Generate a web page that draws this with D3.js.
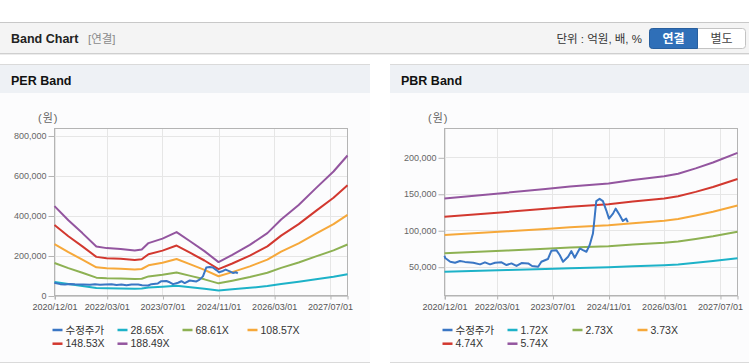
<!DOCTYPE html>
<html><head><meta charset="utf-8">
<script src="https://cdn.jsdelivr.net/npm/d3@7"></script>
<style>
body{margin:0;background:#fff;}
svg{display:block;font-family:"Liberation Sans","Noto Sans CJK KR",Arial,sans-serif;}
</style>
</head><body>
<svg id="c" width="749" height="364"></svg>
<script>
// ---------------- DATA ----------------
const xTickLabels = ["2020/12/01","2022/03/01","2023/07/01","2024/11/01","2026/03/01","2027/07/01"];
const xDomainLabels = ["2020/12/01","2027/12/01"];

// PER band series (원)
const perDates = ["2020/12/01","2021/04/01","2021/08/01","2021/12/01","2022/03/01","2022/07/01","2022/11/01","2023/01/01","2023/03/01","2023/07/01","2023/11/01","2024/03/01","2024/07/01","2024/11/01","2025/03/01","2025/08/01","2026/01/01","2026/05/01","2026/10/01","2027/03/01","2027/08/01","2027/12/01"];
const per2865 = [67900,57200,47400,37200,36000,35400,34200,35000,39800,43300,48200,41000,33700,25400,30900,38400,47400,57800,68800,81600,94200,106400];
const per6861 = [162700,136900,113600,89200,86200,84800,81900,83700,95400,103600,115400,98200,80800,60800,73900,92100,113600,138300,164900,195500,225700,254800];
const per10857 = [257400,216600,179700,141100,136500,134200,129600,132500,150900,163900,182600,155500,127900,96200,116900,145700,179700,218900,260900,309300,357100,403200];
const per14853 = [352200,296300,245800,193100,186700,183600,177300,181200,206500,224300,249800,212700,175000,131600,160000,199300,245800,299400,356900,423200,488500,551600];
const per18849 = [446900,376000,312000,245000,236900,233000,225100,230000,262000,284600,317000,269900,222000,167000,203000,253000,312000,380000,452900,537000,619900,700100];
const perLabels = ["수정주가","28.65X","68.61X","108.57X","148.53X","188.49X"];
const perYTicks = [0,200000,400000,600000,800000];
const perYDomain = [0,835000];

// PBR band series (원)
const pbrDates = ["2020/12/01","2022/06/01","2023/05/01","2023/12/01","2024/11/01","2025/06/01","2026/03/01","2026/07/01","2026/12/01","2027/05/01","2027/12/01"];
const pbr172 = [43000,45400,47000,48000,49200,50600,52100,53100,55400,57800,61700];
const pbr273 = [68300,72100,74500,76200,78100,80300,82700,84400,87900,91700,98000];
const pbr373 = [93300,98500,101800,104100,106700,109700,113000,115300,120100,125300,133900];
const pbr474 = [118500,125100,129400,132300,135600,139400,143600,146500,152600,159300,170200];
const pbr574 = [143500,151500,156700,160100,164200,168800,173900,177400,184800,192900,206100];
const pbrLabels = ["수정주가","1.72X","2.73X","3.73X","4.74X","5.74X"];
const pbrYTicks = [50000,100000,150000,200000];
const pbrYDomain = [10500,239500];

// 수정주가 (adjusted price)
const priceDates = ["2020/12/01","2020/12/07","2021/01/20","2021/03/03","2021/04/15","2021/05/28","2021/08/09","2021/10/07","2021/11/19","2022/01/02","2022/02/15","2022/04/13","2022/05/26","2022/07/08","2022/08/21","2022/10/04","2022/12/01","2023/01/04","2023/02/26","2023/03/26","2023/05/22","2023/06/21","2023/08/04","2023/09/02","2023/10/01","2023/11/14","2023/12/13","2024/01/11","2024/02/24","2024/03/23","2024/04/22","2024/05/20","2024/06/18","2024/07/03","2024/07/17","2024/08/15","2024/09/13","2024/10/13","2024/11/05","2024/12/10","2025/01/02","2025/02/07","2025/03/06","2025/04/04","2025/04/18"];
const priceValues = [65000,62000,56800,55500,57800,56600,55500,53200,56000,53200,55500,56000,52300,54500,51000,55000,54500,51000,50000,56800,60500,71800,72700,66000,56800,63600,71400,62300,75000,72700,70500,79500,95500,118000,140000,143000,140000,127000,116000,122800,129600,120500,112700,116000,111000];

const colors = ["#3a76c4","#1db2c8","#8db153","#f6a83a","#d2382f","#93559f"];

// ---------------- DRAW ----------------
const svg = d3.select("#c");
const parse = d3.timeParse("%Y/%m/%d");

// Top header bar
svg.append("rect").attr("x",0).attr("y",22.5).attr("width",749).attr("height",30.5)
  .attr("fill","#f4f4f4").attr("stroke","none");
svg.append("line").attr("x1",0).attr("x2",749).attr("y1",22.5).attr("y2",22.5).attr("stroke","#c8c8c8");
svg.append("line").attr("x1",0).attr("x2",749).attr("y1",53.5).attr("y2",53.5).attr("stroke","#cfcfcf");
svg.append("line").attr("x1",0).attr("x2",749).attr("y1",54.5).attr("y2",54.5).attr("stroke","#ececec");
svg.append("text").attr("x",11).attr("y",43).attr("font-size",12.5).attr("font-weight","bold")
  .attr("fill","#222").text("Band Chart");
svg.append("text").attr("x",88).attr("y",43).attr("font-size",11.5).attr("fill","#8a8a8a").text("[연결]");
svg.append("text").attr("x",642).attr("y",43).attr("text-anchor","end").attr("font-size",11.5)
  .attr("fill","#333").text("단위 : 억원, 배, %");
svg.append("rect").attr("x",649.5).attr("y",28.5).attr("width",96).attr("height",20).attr("rx",3)
  .attr("fill","#fff").attr("stroke","#c3c3c3");
svg.append("path").attr("d","M652.5,28.5 H697.5 V48.5 H652.5 Q649.5,48.5 649.5,45.5 V31.5 Q649.5,28.5 652.5,28.5 Z")
  .attr("fill","#2f6fb8").attr("stroke","#285f9e");
svg.append("text").attr("x",673.5).attr("y",43).attr("text-anchor","middle").attr("font-size",12)
  .attr("font-weight","bold").attr("fill","#fff").text("연결");
svg.append("text").attr("x",721.5).attr("y",43).attr("text-anchor","middle").attr("font-size",12)
  .attr("fill","#444").text("별도");

function drawPanel(px, pw, title, dates, bands, labels, yTicks, yDomain) {
  const g = svg.append("g").attr("transform",`translate(${px},0)`);
  // panel body + header
  g.append("rect").attr("x",0).attr("y",64).attr("width",pw).attr("height",299).attr("fill","#fcfcfd");
  g.append("rect").attr("x",0).attr("y",64).attr("width",pw).attr("height",29).attr("fill","#eef1f5");
  g.append("line").attr("x1",0).attr("x2",pw).attr("y1",64.5).attr("y2",64.5).attr("stroke","#dadada");
  g.append("line").attr("x1",0).attr("x2",pw).attr("y1",362.5).attr("y2",362.5).attr("stroke","#dadada");
  g.append("text").attr("x",11).attr("y",85).attr("font-size",12.5).attr("font-weight","bold")
    .attr("fill","#111").text(title);

  const x0 = 54.5, x1 = 347.5, yTop = 128.5, yBot = 295.5;
  const x = d3.scaleTime().domain(xDomainLabels.map(parse)).range([x0,x1]);
  const y = d3.scaleLinear().domain(yDomain).range([yBot,yTop]);
  const xTicks = xTickLabels.map(parse);

  // grid
  g.append("g").selectAll("line.h").data(yTicks).join("line")
    .attr("x1",x0).attr("x2",x1).attr("y1",d=>Math.round(y(d))+0.5).attr("y2",d=>Math.round(y(d))+0.5)
    .attr("stroke","#e6e6e6");
  g.append("g").selectAll("line.v").data(xTicks).join("line")
    .attr("x1",d=>Math.round(x(d))+0.5).attr("x2",d=>Math.round(x(d))+0.5).attr("y1",yTop).attr("y2",yBot)
    .attr("stroke","#e6e6e6");
  // frame
  g.append("rect").attr("x",x0).attr("y",yTop).attr("width",x1-x0).attr("height",yBot-yTop)
    .attr("fill","none").attr("stroke","#b4b4b4");

  // axes
  const fmt = d3.format(",");
  const ya = g.append("g").attr("transform",`translate(${x0},0)`)
    .call(d3.axisLeft(y).tickValues(yTicks).tickSize(6).tickPadding(2).tickFormat(fmt));
  ya.select(".domain").remove();
  ya.selectAll("line").attr("stroke","#b4b4b4").attr("transform","translate(0,0.5)");
  ya.selectAll("text").attr("font-size",9).attr("fill","#666").attr("font-family",null);

  const xa = g.append("g").attr("transform",`translate(0,${yBot})`)
    .call(d3.axisBottom(x).tickValues(xTicks).tickSize(4).tickPadding(4)
      .tickFormat((d,i)=>xTickLabels[i]));
  xa.select(".domain").attr("stroke","#b4b4b4");
  xa.selectAll("line").attr("stroke","#b4b4b4").attr("transform","translate(0.5,0)");
  xa.selectAll("text").attr("font-size",9).attr("fill","#555").attr("font-family",null);

  g.append("text").attr("x",38).attr("y",122).attr("font-size",11).attr("fill","#666")
    .attr("letter-spacing",1).text("(원)");

  // lines
  const line = d3.line().x(d=>x(d[0])).y(d=>y(d[1]));
  const bandG = g.append("g");
  bands.forEach((vals,i)=>{
    bandG.append("path").datum(vals.map((v,j)=>[parse(dates[j]),v]))
      .attr("d",line).attr("fill","none").attr("stroke",colors[i+1]).attr("stroke-width",2)
      .attr("stroke-linejoin","round");
  });
  g.append("path").datum(priceValues.map((v,j)=>[parse(priceDates[j]),v]))
    .attr("d",line).attr("fill","none").attr("stroke",colors[0]).attr("stroke-width",2)
    .attr("stroke-linejoin","round");

  // legend
  const lg = g.append("g");
  labels.forEach((lab,i)=>{
    const lx = 52.5 + (i%4)*65, ly = 330 + Math.floor(i/4)*13.7;
    lg.append("line").attr("x1",lx).attr("x2",lx+10).attr("y1",ly).attr("y2",ly)
      .attr("stroke",colors[i]).attr("stroke-width",2.5);
    lg.append("text").attr("x",lx+13).attr("y",ly).attr("dy","0.36em").attr("font-size",10.5)
      .attr("fill","#333").text(lab);
  });
}

drawPanel(0, 370, "PER Band", perDates, [per2865,per6861,per10857,per14853,per18849], perLabels, perYTicks, perYDomain);
drawPanel(390, 359, "PBR Band", pbrDates, [pbr172,pbr273,pbr373,pbr474,pbr574], pbrLabels, pbrYTicks, pbrYDomain);
</script>
</body></html>
